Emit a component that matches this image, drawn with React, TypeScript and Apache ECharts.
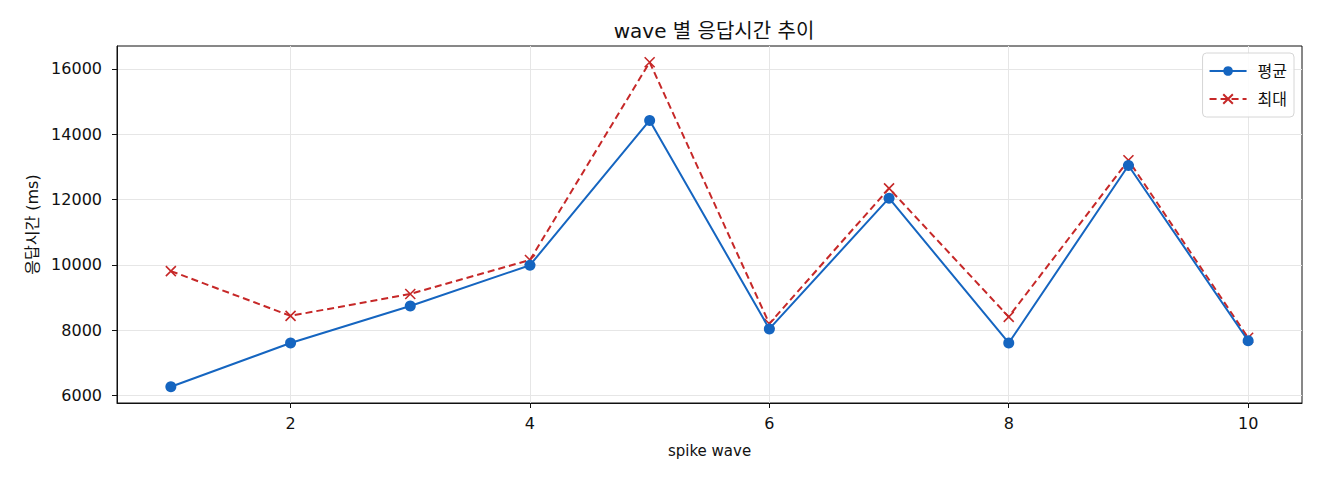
import { useEffect, useRef } from "react";
import * as echarts from "echarts";

const waves = [1, 2, 3, 4, 5, 6, 7, 8, 9, 10];
const avgMs = [6270, 7610, 8740, 9990, 14420, 8040, 12040, 7610, 13040, 7680];
const maxMs = [9810, 8440, 9110, 10150, 16200, 8200, 12340, 8410, 13200, 7770];
const xTicks = [2, 4, 6, 8, 10];
const yTicks = [6000, 8000, 10000, 12000, 14000, 16000];

const FONT = "'DejaVu Sans', 'Noto Sans CJK KR', sans-serif";
const BLUE = "#1565c0";
const RED = "#c62828";

export default function App(): JSX.Element {
  const rootRef = useRef<HTMLDivElement | null>(null);

  useEffect(() => {
    if (!rootRef.current) return undefined;
    const chart = echarts.init(rootRef.current, undefined, { renderer: "svg" });

    // matplotlib-like 5% margins
    const yMin = Math.min(...avgMs, ...maxMs);
    const yMax = Math.max(...avgMs, ...maxMs);
    const yPad = (yMax - yMin) * 0.05;
    const xPad = (waves[waves.length - 1] - waves[0]) * 0.05;

    const option: echarts.EChartsOption = {
      animation: false,
      textStyle: { fontFamily: FONT },
      title: {
        text: "wave 별 응답시간 추이",
        left: 709,
        textAlign: "center",
        top: 16,
        textStyle: { fontFamily: FONT, fontSize: 20, fontWeight: "normal", color: "#111" }
      },
      grid: {
        left: 117,
        right: 18,
        top: 46,
        bottom: 77,
        show: true,
        borderColor: "#111",
        borderWidth: 1,
        backgroundColor: "transparent"
      },
      legend: {
        orient: "vertical",
        right: 26,
        top: 53,
        itemWidth: 37,
        itemHeight: 12,
        itemGap: 12,
        padding: [10, 7, 10, 6],
        borderColor: "#d6d6d6",
        borderWidth: 1,
        borderRadius: 4,
        backgroundColor: "rgba(255,255,255,0.85)",
        textStyle: { fontFamily: FONT, fontSize: 16, color: "#111", padding: [0, 0, 0, 6] },
        data: ["평균", "최대"]
      },
      xAxis: {
        type: "value",
        min: waves[0] - xPad,
        max: waves[waves.length - 1] + xPad,
        name: "spike wave",
        nameLocation: "middle",
        nameGap: 40,
        nameTextStyle: { fontFamily: FONT, fontSize: 15, color: "#111" },
        axisLine: { show: true, lineStyle: { color: "#111", width: 1 } },
        axisTick: { show: true, length: 5, lineStyle: { color: "#111" }, customValues: xTicks },
        axisLabel: { fontSize: 16, color: "#111", margin: 12, customValues: xTicks },
        splitLine: { show: true, lineStyle: { color: "#e6e6e6", width: 1 } }
      },
      yAxis: {
        type: "value",
        min: yMin - yPad,
        max: yMax + yPad,
        name: "응답시간 (ms)",
        nameLocation: "middle",
        nameGap: 76,
        nameTextStyle: { fontFamily: FONT, fontSize: 16, color: "#111" },
        axisLine: { show: true, lineStyle: { color: "#111", width: 1 } },
        axisTick: { show: true, length: 5, lineStyle: { color: "#111" }, customValues: yTicks },
        axisLabel: {
          fontSize: 16,
          color: "#111",
          margin: 15,
          customValues: yTicks,
          formatter: (v: number) => String(v)
        },
        splitLine: { show: true, lineStyle: { color: "#e6e6e6", width: 1 } }
      },
      series: [
        {
          name: "평균",
          type: "line",
          data: waves.map((w, i) => [w, avgMs[i]]),
          symbol: "circle",
          symbolSize: 11,
          lineStyle: { color: BLUE, width: 2 },
          itemStyle: { color: BLUE, borderWidth: 0 },
          z: 3
        },
        {
          name: "최대",
          type: "line",
          data: waves.map((w, i) => [w, maxMs[i]]),
          symbol: "path://M0,0L10,10M10,0L0,10",
          symbolSize: 10,
          lineStyle: { color: RED, width: 2, type: [7, 4] },
          itemStyle: { color: RED, borderColor: RED, borderWidth: 1.6 },
          z: 2
        }
      ]
    };

    chart.setOption(option);
    return () => {
      chart.dispose();
    };
  }, []);

  return (
    <div
      ref={rootRef}
      style={{ position: "fixed", left: 0, top: 0, width: 1320, height: 480, background: "#fff" }}
    />
  );
}
